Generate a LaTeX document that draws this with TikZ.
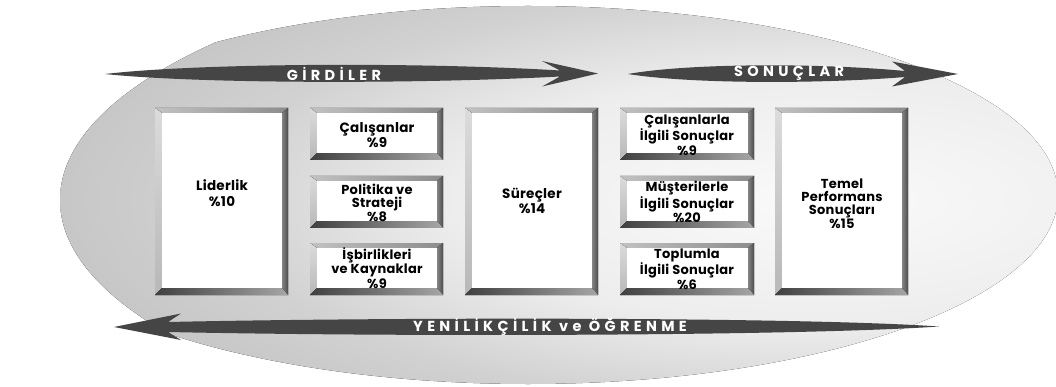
\documentclass[tikz,border=0pt]{standalone}
\usepackage{fontspec}
\setmainfont{Poppins}
\newfontfamily\bandfont{Poppins}[LetterSpace=30]
\newfontfamily\cardfont{Poppins}[LetterSpace=2]
\usetikzlibrary{calc}

% soft grey disc behind the model
\pgfdeclareradialshading{discshade}{\pgfpoint{0bp}{0bp}}{%
  color(0bp)=(black!2); color(12bp)=(black!7); color(20bp)=(black!18);
  color(36bp)=(black!31); color(50bp)=(black!27)}

\tikzset{
  band/.style={fill=black!73},
  bandlabel/.style={text=white, font=\bandfont\bfseries\fontsize{14.5}{16}\selectfont, inner sep=0pt},
  inbox/.style={fill=white, draw=none, inner sep=0pt},
  boxtext/.style={align=center, inner sep=0pt, font=\cardfont\bfseries\fontsize{13.5}{15.5}\selectfont},
  boxtextsm/.style={align=center, inner sep=0pt, font=\cardfont\bfseries\fontsize{13}{12.8}\selectfont},
}

% bevelled frame: name, x1, y1, x2, y2
\newcommand\bevelframe[5]{%
  \fill[left color=black!24, right color=black!45]
    (#2,#3) -- (#4,#3) -- (#4-6,#3+5) -- (#2+7,#3+5) -- cycle;
  \fill[top color=black!14, bottom color=black!28]
    (#2,#3) -- (#2+7,#3+5) -- (#2+7,#5-7) -- (#2,#5) -- cycle;
  \fill[left color=black!48, right color=black!70]
    (#4,#3) -- (#4,#5) -- (#4-6,#5-7) -- (#4-6,#3+5) -- cycle;
  \fill[left color=black!75, right color=black!35]
    (#2,#5) -- (#2+7,#5-7) -- (#4-6,#5-7) -- (#4,#5) -- cycle;
  \node[inbox, minimum width={(#4-#2-13)*1pt}, minimum height={(#5-#3-12)*1pt}]
    (#1) at ({(#2+#4+1)/2},{(#3+#5-2)/2}) {};
}

\begin{document}
\begin{tikzpicture}[x=1pt,y=-1pt]
\useasboundingbox (0,0) rectangle (1056,387);
\fill[white] (0,0) rectangle (1056,387);

% background disc
\begin{scope}
  \clip (528,195) ellipse [x radius=530, y radius=189];
  \fill[shading=discshade] (820,200) ellipse [x radius=760, y radius=260];
\end{scope}

% upper bands
\fill[band] (105,74) .. controls (200,63) and (420,62) .. (560,70.5)
  -- (542,61) -- (598,73.5) -- (542,86.5) -- (560,76.5)
  .. controls (420,84) and (200,84) .. cycle;
\node[bandlabel] (girdiler) at (334,73.5) {GİRDİLER};

\fill[band] (628,74) .. controls (690,63) and (820,63) .. (905,71)
  -- (892,61.5) -- (958,74) -- (892,86.5) -- (905,77)
  .. controls (820,84) and (690,84) .. cycle;
\node[bandlabel] (sonuclar) at (789,73.5) {SONUÇLAR};

% lower band
\fill[band] (939,326.5) .. controls (800,317) and (400,317) .. (168,322)
  -- (181,313.5) -- (114,327) -- (181,340) -- (168,332)
  .. controls (400,337) and (800,336) .. cycle;
\node[bandlabel] (yenilik) at (550,326.5) {YENİLİKÇİLİK ve ÖĞRENME};

% enabler boxes
\bevelframe{liderlik}{155}{108}{288}{295}
\bevelframe{calisanlar}{310}{108}{443}{160}
\bevelframe{politika}{310}{176}{443}{228}
\bevelframe{isbirlik}{310}{243}{443}{295}
\bevelframe{surecler}{465}{108}{598}{295}
% result boxes
\bevelframe{calsonuc}{620}{108}{754}{160}
\bevelframe{mussonuc}{620}{176}{754}{228}
\bevelframe{topsonuc}{620}{243}{754}{295}
\bevelframe{temel}{775}{108}{908}{295}

\node[boxtext] (liderlikt) at (222,193) {Liderlik\\\%10};
\node[boxtext] (calisanlart) at (377,135) {Çalışanlar\\\%9};
\node[boxtextsm] (politikat) at (377,203) {Politika ve\\Strateji\\\%8};
\node[boxtextsm] (isbirlikt) at (377,268) {İşbirlikleri\\ve Kaynaklar\\\%9};
\node[boxtext] (sureclert) at (532,201) {Süreçler\\\%14};
\node[boxtextsm] (calsonuct) at (687,135) {Çalışanlarla\\İlgili Sonuçlar\\\%9};
\node[boxtextsm] (mussonuct) at (687,202) {Müşterilerle\\İlgili Sonuçlar\\\%20};
\node[boxtextsm] (topsonuct) at (687,269) {Toplumla\\İlgili Sonuçlar\\\%6};
\node[boxtextsm] (temelt) at (842,204) {Temel\\Performans\\Sonuçları\\\%15};
\end{tikzpicture}
\end{document}
